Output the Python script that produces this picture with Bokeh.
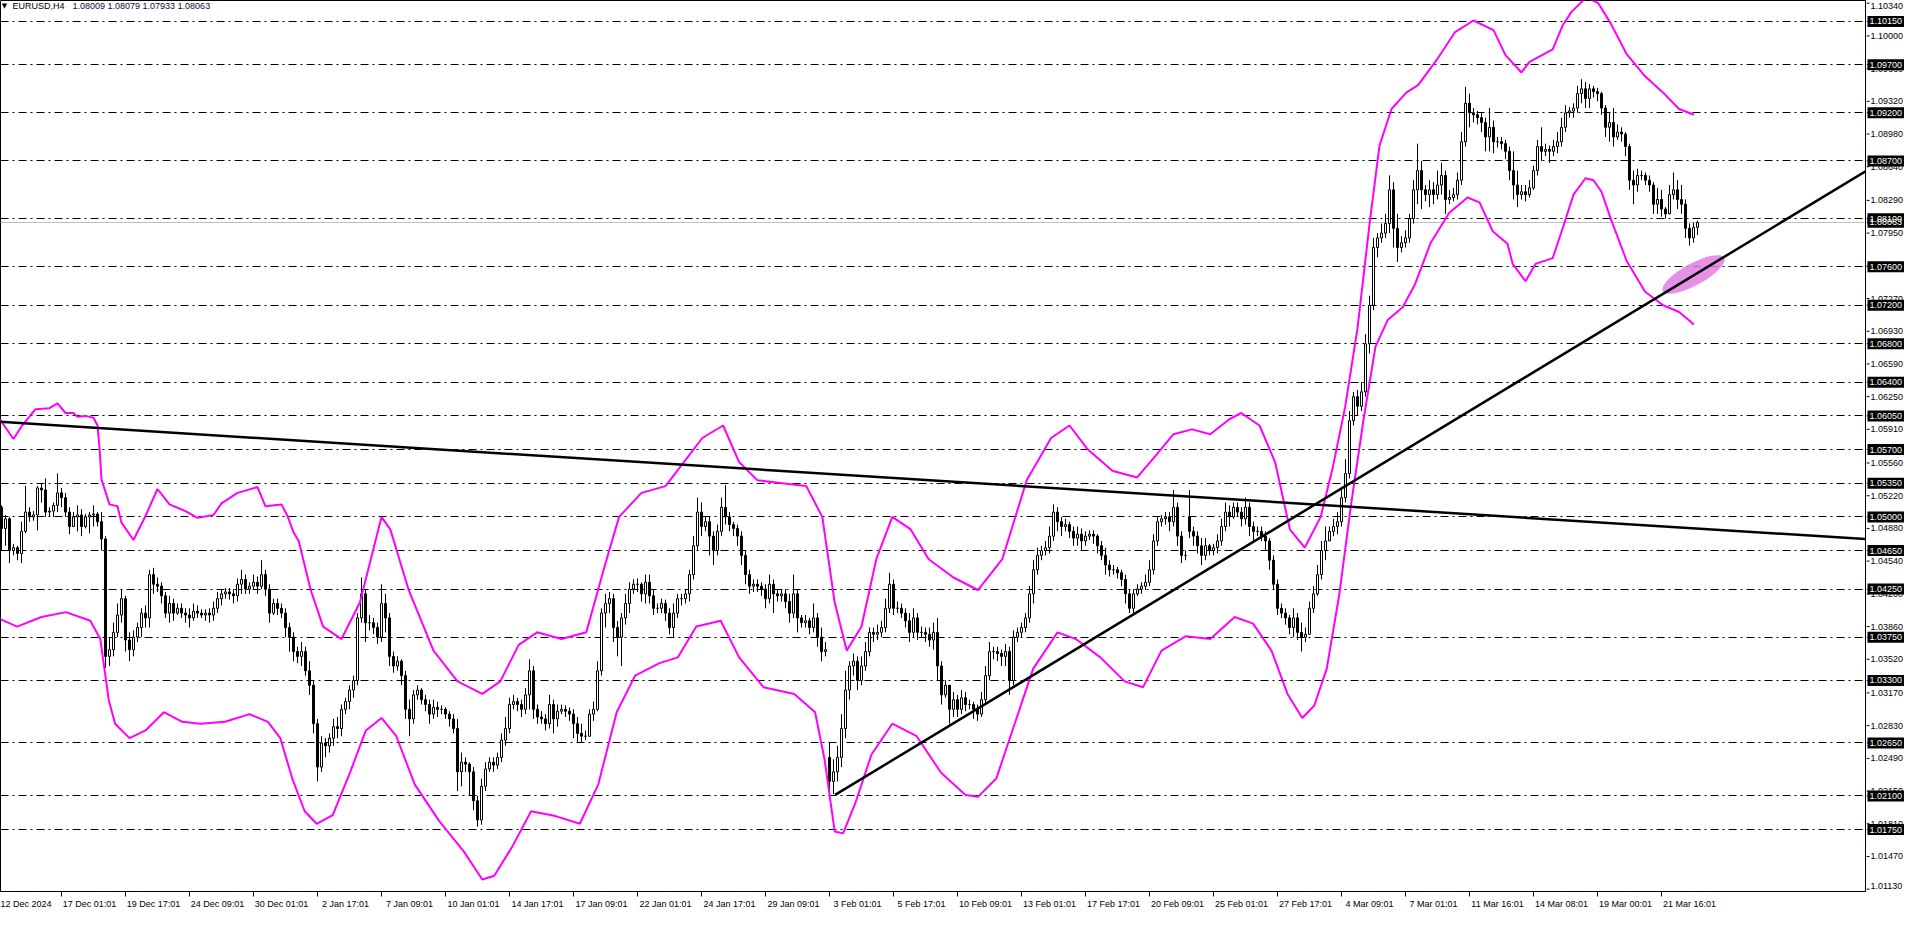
from bokeh.plotting import figure
from bokeh.layouts import row
from bokeh.models import Range1d, LinearAxis, FixedTicker, Label
from bokeh.core.properties import value
from bokeh.embed import file_html
from bokeh.resources import INLINE

# ---------------- data ----------------
symbol = "EURUSD,H4"
last_ohlc = "1.08009 1.08079 1.07933 1.08063"
bid = 1.08063

label_bars = list(range(0, 417, 16))
label_texts = ["12 Dec 2024", "17 Dec 01:01", "19 Dec 17:01", "24 Dec 09:01", "30 Dec 01:01",
               "2 Jan 17:01", "7 Jan 09:01", "10 Jan 01:01", "14 Jan 17:01", "17 Jan 09:01",
               "22 Jan 01:01", "24 Jan 17:01", "29 Jan 09:01", "3 Feb 01:01", "5 Feb 17:01",
               "10 Feb 09:01", "13 Feb 01:01", "17 Feb 17:01", "20 Feb 09:01", "25 Feb 01:01",
               "27 Feb 17:01", "4 Mar 09:01", "7 Mar 01:01", "11 Mar 16:01", "14 Mar 08:01",
               "19 Mar 00:01", "21 Mar 16:01"]

# H4 candles, prices in pips (1.0000 + n/10000)
close_p = [
    10510, 10488, 10498, 10465,
    10468, 10462, 10485, 10505, 10500, 10502,
    10530, 10528, 10505, 10506, 10512, 10525,
    10520, 10505, 10490, 10500, 10502, 10490,
    10500, 10502, 10503, 10495, 10477, 10355,
    10362, 10380, 10398, 10415, 10372, 10362,
    10375, 10385, 10400, 10395, 10440, 10430,
    10428, 10418, 10400, 10410, 10400, 10405,
    10400, 10398, 10395, 10402, 10400, 10398,
    10400, 10398, 10405, 10415, 10420, 10422,
    10420, 10418, 10430, 10435, 10425, 10428,
    10432, 10428, 10440, 10425, 10400, 10410,
    10405, 10400, 10385, 10375, 10360, 10355,
    10360, 10340, 10325, 10285, 10240, 10265,
    10262, 10270, 10282, 10280, 10300, 10308,
    10320, 10330, 10395, 10420, 10390, 10390,
    10385, 10375, 10410, 10395, 10355, 10345,
    10350, 10335, 10300, 10290, 10315, 10320,
    10310, 10305, 10295, 10302, 10300, 10300,
    10295, 10290, 10280, 10235, 10245, 10243,
    10235, 10205, 10185, 10220, 10238, 10245,
    10242, 10250, 10268, 10280, 10305, 10308,
    10305, 10300, 10315, 10340, 10300, 10292,
    10290, 10285, 10305, 10290, 10298, 10300,
    10298, 10295, 10285, 10275, 10272, 10272,
    10295, 10300, 10340, 10400, 10410, 10415,
    10385, 10375, 10395, 10410, 10425, 10430,
    10430, 10420, 10432, 10418, 10405, 10405,
    10410, 10400, 10385, 10400, 10415, 10415,
    10420, 10440, 10470, 10505, 10490, 10495,
    10480, 10465, 10485, 10510, 10500, 10492,
    10488, 10480, 10460, 10440, 10428, 10430,
    10428, 10425, 10415, 10430, 10420, 10418,
    10420, 10412, 10400, 10420, 10395, 10390,
    10392, 10385, 10395, 10375, 10360, 10362,
    10225, 10235, 10250, 10280, 10320, 10345,
    10350, 10330, 10345, 10360, 10380, 10378,
    10380, 10385, 10405, 10430, 10405, 10405,
    10400, 10392, 10380, 10395, 10380, 10380,
    10378, 10372, 10380, 10345, 10315, 10325,
    10300, 10310, 10300, 10312, 10305, 10305,
    10300, 10295, 10310, 10335, 10360, 10360,
    10358, 10355, 10360, 10330, 10375, 10380,
    10385, 10395, 10420, 10445, 10460, 10465,
    10468, 10480, 10505, 10495, 10490, 10492,
    10485, 10478, 10482, 10475, 10480, 10482,
    10480, 10470, 10460, 10450, 10445, 10445,
    10442, 10435, 10420, 10405, 10420, 10425,
    10428, 10432, 10445, 10475, 10495, 10498,
    10500, 10495, 10510, 10480, 10460, 10460,
    10485, 10480, 10470, 10460, 10470, 10465,
    10468, 10475, 10490, 10505, 10500, 10510,
    10505, 10498, 10510, 10490, 10485, 10485,
    10480, 10475, 10455, 10430, 10405, 10400,
    10395, 10385, 10395, 10380, 10375, 10378,
    10405, 10420, 10440, 10465, 10475, 10485,
    10490, 10495, 10520, 10545, 10600, 10625,
    10615, 10630, 10680, 10720, 10780, 10790,
    10795, 10805, 10840, 10800, 10780, 10785,
    10790, 10810, 10840, 10860, 10840, 10835,
    10840, 10835, 10845, 10855, 10830, 10832,
    10835, 10850, 10890, 10930, 10920, 10918,
    10915, 10910, 10895, 10905, 10890, 10890,
    10888, 10880, 10860, 10845, 10835, 10838,
    10835, 10842, 10860, 10885, 10880, 10882,
    10880, 10885, 10890, 10905, 10920, 10922,
    10925, 10940, 10945, 10935, 10945, 10942,
    10940, 10925, 10905, 10910, 10895, 10900,
    10898, 10885, 10850, 10845, 10855, 10855,
    10850, 10845, 10825, 10830, 10820, 10815,
    10835, 10840, 10830, 10825, 10800, 10790,
    10801, 10806,
]
high_p = [
    10515, 10512, 10502, 10500,
    10472, 10470, 10495, 10532, 10510, 10506,
    10532, 10535, 10540, 10510, 10515, 10545,
    10530, 10525, 10510, 10505, 10512, 10508,
    10503, 10505, 10512, 10505, 10505, 10480,
    10375, 10390, 10410, 10424, 10418, 10380,
    10382, 10390, 10405, 10408, 10445, 10447,
    10437, 10432, 10422, 10418, 10415, 10410,
    10410, 10405, 10405, 10410, 10408, 10404,
    10404, 10405, 10412, 10422, 10425, 10426,
    10426, 10425, 10436, 10445, 10440, 10432,
    10440, 10438, 10455, 10445, 10430, 10415,
    10415, 10410, 10405, 10390, 10380, 10365,
    10370, 10365, 10350, 10330, 10290, 10272,
    10270, 10275, 10290, 10292, 10305, 10312,
    10325, 10335, 10400, 10437, 10425, 10398,
    10395, 10390, 10430, 10420, 10400, 10360,
    10355, 10352, 10340, 10310, 10320, 10325,
    10322, 10315, 10310, 10310, 10308, 10304,
    10302, 10298, 10295, 10290, 10255, 10250,
    10245, 10240, 10210, 10228, 10245, 10250,
    10250, 10255, 10275, 10292, 10312, 10315,
    10312, 10310, 10322, 10352, 10345, 10305,
    10298, 10295, 10315, 10310, 10305, 10305,
    10304, 10302, 10300, 10292, 10285, 10278,
    10300, 10308, 10350, 10405, 10420, 10422,
    10420, 10392, 10400, 10420, 10432, 10435,
    10436, 10432, 10440, 10440, 10425, 10410,
    10415, 10414, 10405, 10410, 10420, 10420,
    10425, 10445, 10480, 10520, 10515, 10500,
    10500, 10485, 10492, 10520, 10533, 10505,
    10495, 10492, 10485, 10465, 10445, 10435,
    10435, 10432, 10430, 10440, 10435, 10425,
    10425, 10425, 10420, 10440, 10425, 10398,
    10398, 10395, 10410, 10400, 10385, 10370,
    10265, 10248, 10262, 10295, 10340, 10350,
    10358, 10355, 10355, 10370, 10385, 10385,
    10388, 10392, 10415, 10442, 10435, 10412,
    10410, 10405, 10400, 10405, 10400, 10386,
    10385, 10385, 10390, 10395, 10350, 10330,
    10325, 10318, 10315, 10320, 10318, 10310,
    10308, 10305, 10318, 10345, 10370, 10365,
    10365, 10362, 10368, 10365, 10382, 10385,
    10390, 10400, 10428, 10455, 10468, 10470,
    10475, 10490, 10513, 10510, 10500, 10498,
    10495, 10490, 10490, 10488, 10485, 10486,
    10486, 10482, 10475, 10468, 10455, 10450,
    10448, 10445, 10440, 10425, 10425, 10430,
    10432, 10440, 10455, 10482, 10500, 10502,
    10505, 10505, 10528, 10515, 10485, 10465,
    10528, 10490, 10485, 10478, 10478, 10472,
    10472, 10482, 10498, 10515, 10512, 10515,
    10515, 10510, 10520, 10515, 10495, 10490,
    10490, 10485, 10478, 10460, 10435, 10410,
    10405, 10398, 10405, 10400, 10390, 10385,
    10412, 10428, 10450, 10475, 10490, 10490,
    10498, 10505, 10530, 10560, 10610, 10630,
    10632, 10640, 10690, 10730, 10790, 10795,
    10805, 10815, 10855, 10848, 10815, 10792,
    10798, 10815, 10850, 10888, 10870, 10845,
    10850, 10848, 10860, 10868, 10860, 10840,
    10842, 10858, 10900, 10947, 10940, 10925,
    10922, 10920, 10915, 10925, 10912, 10895,
    10895, 10892, 10885, 10880, 10860, 10845,
    10845, 10850, 10865, 10892, 10905, 10888,
    10886, 10892, 10900, 10915, 10928, 10926,
    10930, 10948, 10955, 10952, 10950, 10948,
    10946, 10942, 10928, 10920, 10925, 10908,
    10905, 10900, 10888, 10860, 10862, 10860,
    10858, 10855, 10848, 10842, 10840, 10822,
    10845, 10858, 10850, 10845, 10830, 10805,
    10806, 10808,
]
low_p = [
    10484, 10465, 10470, 10452,
    10460, 10455, 10452, 10483, 10495, 10496,
    10486, 10515, 10500, 10500, 10500, 10505,
    10510, 10500, 10482, 10490, 10485, 10480,
    10488, 10483, 10490, 10490, 10465, 10343,
    10345, 10355, 10375, 10390, 10360, 10350,
    10355, 10370, 10375, 10385, 10385, 10420,
    10422, 10410, 10395, 10390, 10392, 10398,
    10395, 10390, 10385, 10392, 10395, 10395,
    10392, 10390, 10392, 10400, 10408, 10415,
    10414, 10410, 10412, 10420, 10420, 10420,
    10425, 10420, 10425, 10418, 10390, 10398,
    10398, 10395, 10375, 10360, 10350, 10348,
    10345, 10335, 10315, 10275, 10225, 10235,
    10250, 10255, 10262, 10270, 10272, 10295,
    10300, 10312, 10325, 10390, 10370, 10382,
    10378, 10368, 10370, 10380, 10345, 10338,
    10340, 10325, 10290, 10272, 10285, 10310,
    10305, 10298, 10285, 10290, 10292, 10295,
    10290, 10282, 10275, 10215, 10220, 10235,
    10210, 10195, 10178, 10180, 10215, 10235,
    10235, 10238, 10245, 10262, 10275, 10300,
    10298, 10292, 10295, 10300, 10290, 10285,
    10285, 10278, 10280, 10275, 10282, 10295,
    10292, 10288, 10270, 10265, 10265, 10268,
    10272, 10288, 10298, 10335, 10385, 10400,
    10370, 10355, 10345, 10388, 10400, 10420,
    10422, 10412, 10410, 10410, 10398, 10400,
    10400, 10392, 10378, 10375, 10395, 10408,
    10410, 10412, 10435, 10465, 10480, 10485,
    10460, 10450, 10460, 10480, 10492, 10485,
    10480, 10470, 10450, 10430, 10420, 10422,
    10422, 10418, 10405, 10410, 10400, 10412,
    10412, 10405, 10390, 10395, 10380, 10385,
    10385, 10378, 10380, 10365, 10350, 10355,
    10210, 10212, 10225, 10240, 10270, 10310,
    10335, 10320, 10325, 10340, 10355, 10370,
    10372, 10375, 10380, 10400, 10398, 10400,
    10395, 10385, 10370, 10375, 10372, 10375,
    10370, 10365, 10362, 10330, 10305, 10312,
    10285, 10292, 10292, 10295, 10298, 10300,
    10290, 10288, 10292, 10305, 10330, 10352,
    10350, 10345, 10345, 10315, 10325, 10370,
    10375, 10380, 10390, 10410, 10440, 10455,
    10460, 10462, 10475, 10485, 10480, 10485,
    10478, 10470, 10470, 10465, 10470, 10476,
    10472, 10462, 10455, 10440, 10438, 10440,
    10436, 10428, 10410, 10400, 10400, 10418,
    10420, 10424, 10428, 10440, 10470, 10490,
    10492, 10485, 10490, 10470, 10452, 10455,
    10478, 10470, 10462, 10450, 10455, 10460,
    10460, 10462, 10470, 10485, 10490, 10498,
    10500, 10490, 10492, 10480, 10475, 10480,
    10475, 10465, 10445, 10425, 10398, 10395,
    10388, 10378, 10375, 10372, 10360, 10370,
    10385, 10400, 10418, 10435, 10455, 10475,
    10480, 10482, 10490, 10515, 10540, 10595,
    10605, 10610, 10625, 10670, 10715, 10770,
    10785, 10790, 10795, 10780, 10765, 10775,
    10780, 10785, 10805, 10825, 10820, 10828,
    10822, 10825, 10830, 10835, 10815, 10825,
    10828, 10830, 10845, 10885, 10905, 10910,
    10908, 10900, 10880, 10880, 10878, 10884,
    10882, 10872, 10850, 10830, 10822, 10830,
    10828, 10832, 10840, 10855, 10870, 10875,
    10868, 10875, 10878, 10885, 10900, 10915,
    10915, 10920, 10930, 10925, 10925, 10936,
    10932, 10918, 10895, 10890, 10885, 10892,
    10890, 10875, 10840, 10825, 10838, 10850,
    10845, 10838, 10815, 10815, 10812, 10810,
    10815, 10830, 10820, 10815, 10790, 10782,
    10785, 10793,
]
gap_open = {0: 10500, 208: 10250, 298: 10500}

# envelope bands (bar, price)
upper_bar = [0, 4, 6, 9.5, 13, 15, 17, 19, 20, 22, 24, 25, 25.5, 26, 28, 30, 31, 34, 37, 40, 43, 47, 50, 54, 56, 60,
             65, 67, 71, 72.5, 74, 75.3, 78.3, 81.4, 86, 90.6, 96, 98.2, 102.8, 109, 115, 121.2, 125.7, 130.3, 134.9,
             141, 147.2, 151.8, 155.4, 161, 167, 171.6, 176.2, 181.4, 185.4, 190, 196.1, 202.2, 206.2, 209.3, 212.3,
             216, 219.7, 223.7, 228.3, 232.8, 239, 245.1, 251.2, 257.3, 263.4, 268, 272.6, 278.7, 284.9, 289.4, 294,
             298.6, 303.2, 307.8, 310.9, 315.5, 319.4, 323.1, 326.8, 330.8, 333.8, 336.9, 340, 343, 345.5, 348.5,
             352.2, 355.2, 359.8, 364.4, 369, 374, 377, 381, 383, 388.8, 391.3, 393.5, 397.2, 400.2, 403.3, 407.3,
             411.9, 416.4, 420.4, 424.1]
upper_val = [1.0605, 1.0581, 1.0594, 1.0612, 1.0613, 1.0618, 1.0608, 1.0608, 1.0604, 1.0605, 1.0603, 1.0595, 1.0572,
             1.0539, 1.0513, 1.0511, 1.0494, 1.0476, 1.0501, 1.0529, 1.0513, 1.0506, 1.0499, 1.0502, 1.0514, 1.0525,
             1.0531, 1.0511, 1.0513, 1.0501, 1.0484, 1.0475, 1.0424, 1.0386, 1.0373, 1.0411, 1.0500, 1.0487, 1.0424,
             1.0361, 1.0329, 1.0316, 1.0329, 1.0367, 1.0380, 1.0373, 1.0380, 1.0449, 1.0500, 1.0525, 1.0532, 1.0557,
             1.0582, 1.0595, 1.0557, 1.0538, 1.0535, 1.0532, 1.0500, 1.0411, 1.0361, 1.0386, 1.0456, 1.0500, 1.0487,
             1.0456, 1.0437, 1.0424, 1.0456, 1.0538, 1.0582, 1.0595, 1.0570, 1.0548, 1.0541, 1.0563, 1.0586, 1.0591,
             1.0586, 1.0601, 1.0608, 1.0595, 1.0557, 1.0487, 1.0468, 1.0500, 1.0551, 1.0614, 1.0696, 1.0804, 1.0886,
             1.0924, 1.0941, 1.0949, 1.0975, 1.1004, 1.1016, 1.1006, 1.0980, 1.0962, 1.0973, 1.0986, 1.1011, 1.1025,
             1.1040, 1.1034, 1.1013, 1.0981, 1.0958, 1.0941, 1.0924, 1.0918]
lower_bar = [0, 4.9, 11, 17.1, 23.2, 25.7, 27.8, 29.4, 33, 37, 41.6, 46.2, 50.8, 56.9, 63, 67.6, 70.7, 73.7, 76.8, 79.8,
             83.8, 88.1, 92.1, 96, 99.7, 104.3, 110.4, 116.6, 121.2, 124.2, 128.8, 133.4, 139.5, 145.6, 150.2, 154.8,
             159.4, 165.5, 170.1, 174.7, 180.8, 185.4, 191.5, 199.2, 204.4, 206.8, 209.3, 211.4, 214.5, 218.5, 223.7,
             229.8, 235.9, 242, 245.1, 249.7, 254.3, 258.9, 265, 269.6, 275.7, 281.8, 286.4, 291, 297.1, 303.2, 309.3,
             313.9, 318.5, 322.5, 326.2, 329.2, 332.3, 335.4, 338.4, 341.5, 344.5, 347.6, 351.3, 354.3, 358.3, 362.9,
             367.5, 370.5, 373.8, 377.5, 378.8, 382, 384.5, 388.8, 391.3, 394, 397, 399, 401, 403.3, 407.3, 411.9,
             416.4, 420.4, 424.1]
lower_val = [1.0395, 1.0386, 1.0396, 1.0401, 1.0392, 1.0373, 1.0310, 1.0285, 1.0270, 1.0278, 1.0297, 1.0287, 1.0285,
             1.0287, 1.0295, 1.0287, 1.0270, 1.0228, 1.0194, 1.0181, 1.0190, 1.0234, 1.0278, 1.0291, 1.0272, 1.0222,
             1.0184, 1.0152, 1.0123, 1.0127, 1.0158, 1.0194, 1.0189, 1.0181, 1.0222, 1.0297, 1.0335, 1.0348, 1.0354,
             1.0386, 1.0392, 1.0354, 1.0323, 1.0316, 1.0297, 1.0247, 1.0173, 1.0171, 1.0203, 1.0253, 1.0285, 1.0272,
             1.0234, 1.0211, 1.0209, 1.0228, 1.0285, 1.0342, 1.0380, 1.0373, 1.0354, 1.0329, 1.0323, 1.0361, 1.0376,
             1.0373, 1.0396, 1.0389, 1.0361, 1.0316, 1.0291, 1.0304, 1.0342, 1.0418, 1.0513, 1.0601, 1.0677, 1.0705,
             1.0718, 1.0741, 1.0785, 1.0816, 1.0832, 1.0827, 1.0797, 1.0784, 1.0763, 1.0745, 1.0763, 1.0769, 1.0800,
             1.0835, 1.0852, 1.0850, 1.0838, 1.0810, 1.0766, 1.0734, 1.0720, 1.0713, 1.0700]

# trend lines: two anchor points each (bar, price)
trend_down = [(0.0, 1.0599), (382.5, 1.0499)]
trend_up = [(209.4, 1.0211), (424.0, 1.0751)]

# horizontal levels
levels = [1.1015, 1.0970, 1.0920, 1.0870, 1.0810, 1.0760, 1.0720, 1.0680, 1.0640, 1.0605,
          1.0570, 1.0535, 1.0500, 1.0465, 1.0425, 1.0375, 1.0330, 1.0265, 1.0210, 1.0175]
# price scale ticks
axis_ticks = [1.10340, 1.10000, 1.09660, 1.09320, 1.08980, 1.08640, 1.08290, 1.07950, 1.07610, 1.07270,
              1.06930, 1.06590, 1.06250, 1.05910, 1.05560, 1.05220, 1.04880, 1.04540, 1.04200, 1.03860,
              1.03520, 1.03170, 1.02830, 1.02490, 1.02150, 1.01810, 1.01470, 1.01130]
# highlighted zone
zone_bar = 424.0
zone_price = 1.0752

# ---------------- build ----------------
n = len(close_p)
opens, closes, highs, lows = [], [], [], []
for i in range(n):
    o = gap_open.get(i, close_p[i - 1] if i > 0 else close_p[0]) / 10000.0
    c = close_p[i] / 10000.0
    h = max(high_p[i] / 10000.0, o, c)
    l = min(low_p[i] / 10000.0, o, c)
    opens.append(o); closes.append(c); highs.append(h); lows.append(l)
xs = list(range(n))

x_start, x_end = 0.75, 467.0
FONT = "Liberation Sans"
FS = "9px"
MAIN_W, AXIS_W, H, BOTTOM = 1866, 38, 911, 15
y_lo, y_hi = 1.01106, 1.10368
yr = Range1d(y_lo, y_hi)
px_per_unit = (H - BOTTOM) / (y_hi - y_lo)

p = figure(width=MAIN_W, height=H, output_backend="svg", toolbar_location=None,
           x_range=Range1d(x_start, x_end), y_range=yr,
           x_axis_type=None, y_axis_type=None,
           min_border_left=0, min_border_top=0, min_border_right=1, min_border_bottom=BOTTOM)
p.background_fill_color = "white"
p.border_fill_color = "white"
p.outline_line_color = "black"
p.outline_line_width = 1

# horizontal levels and bid line
p.hspan(y=levels, line_color="black", line_width=1, line_dash="8 4 2 4")
p.hspan(y=[bid], line_color="#c0c0c0", line_width=1)

# candles
bull = [i for i in range(n) if closes[i] >= opens[i]]
bear = [i for i in range(n) if closes[i] < opens[i]]
p.segment(x0=xs, y0=lows, x1=xs, y1=highs, line_color="black", line_width=1)
p.vbar(x=[xs[i] for i in bull], width=0.5, top=[closes[i] for i in bull], bottom=[opens[i] for i in bull],
       fill_color="white", line_color="black", line_width=1)
p.vbar(x=[xs[i] for i in bear], width=0.5, top=[opens[i] for i in bear], bottom=[closes[i] for i in bear],
       fill_color="black", line_color="black", line_width=1)

# bands
p.line(upper_bar, upper_val, line_color="#ff00ff", line_width=2)
p.line(lower_bar, lower_val, line_color="#ff00ff", line_width=2)

def extend(pts, x_to):
    (xa, ya), (xb, yb) = pts
    s = (yb - ya) / (xb - xa)
    return xa, ya, x_to, ya + s * (x_to - xa)

x0, y0, x1, y1 = extend(trend_down, x_end)
p.segment(x0=[x0], y0=[y0], x1=[x1], y1=[y1], line_color="black", line_width=2.5)

p.ellipse(x=[zone_bar], y=[zone_price], width=70, height=22, width_units="screen", height_units="screen",
          angle=0.5, fill_color="#e27ee2", fill_alpha=0.85, line_color=None)

x0, y0, x1, y1 = extend(trend_up, x_end)
p.segment(x0=[x0], y0=[y0], x1=[x1], y1=[y1], line_color="black", line_width=2.5)

# time axis: tick marks at label bars (minor), labels centred to the right of them (major)
centres = [b + 7 for b in label_bars]
xaxis = LinearAxis(ticker=FixedTicker(ticks=centres, minor_ticks=label_bars),
                   major_label_overrides={c: t for c, t in zip(centres, label_texts)})
xaxis.axis_line_color = "black"
xaxis.major_tick_line_color = None
xaxis.major_tick_out = 0
xaxis.major_tick_in = 0
xaxis.minor_tick_line_color = "black"
xaxis.minor_tick_out = 5
xaxis.minor_tick_in = 0
xaxis.major_label_standoff = 2
xaxis.major_label_text_font = FONT
xaxis.major_label_text_font_size = FS
xaxis.major_label_text_color = "black"
p.add_layout(xaxis, "below")

# chart caption
p.add_layout(Label(x=x_start, y=y_hi, x_offset=4, y_offset=-5, text="\u25bc", text_align="center",
                   text_baseline="middle", text_font="DejaVu Sans", text_font_size="7px", text_color="black"))
p.add_layout(Label(x=x_start, y=y_hi, x_offset=12, y_offset=-5, text=symbol, text_align="left",
                   text_baseline="middle", text_font=FONT, text_font_size=FS, text_color="black"))
p.add_layout(Label(x=x_start, y=y_hi, x_offset=72, y_offset=-5, text=last_ohlc, text_align="left",
                   text_baseline="middle", text_font=FONT, text_font_size=FS, text_color="#0a0a3c"))

# ---------------- price scale panel (shares the price range with the chart) ----------------
pa = figure(width=AXIS_W, height=H, output_backend="svg", toolbar_location=None,
            x_range=Range1d(0, AXIS_W), y_range=yr, x_axis_type=None, y_axis_type=None,
            min_border_left=0, min_border_top=0, min_border_right=0, min_border_bottom=BOTTOM)
pa.outline_line_color = None
pa.background_fill_color = "white"
pa.border_fill_color = "white"

tick_y = axis_ticks + levels + [bid]
pa.segment(x0=[0] * len(tick_y), y0=tick_y, x1=[3] * len(tick_y), y1=tick_y, line_color="black", line_width=1)
# keep labels that sit at the very top / bottom inside the panel
tick_off = [max(0.0, 6.0 - (y_hi - v) * px_per_unit) - max(0.0, 6.0 - (v - y_lo) * px_per_unit)
            for v in axis_ticks]
pa.text(x=[4] * len(axis_ticks), y=axis_ticks, y_offset=tick_off, text=["%.5f" % v for v in axis_ticks],
        text_font=value(FONT), text_font_size=value(FS), text_color="black",
        text_align="left", text_baseline="middle")

hl_vals = [bid] + levels
pa.rect(x=[AXIS_W / 2.0 + 0.5] * len(hl_vals), y=hl_vals, width=AXIS_W - 1, height=11, height_units="screen",
        fill_color="black", line_color=None)
pa.text(x=[3] * len(hl_vals), y=hl_vals, text=["%.5f" % v for v in hl_vals],
        text_font=value(FONT), text_font_size=value(FS), text_color="white",
        text_align="left", text_baseline="middle")

layout = row(p, pa)
open("out.html", "w").write(file_html(layout, INLINE))
